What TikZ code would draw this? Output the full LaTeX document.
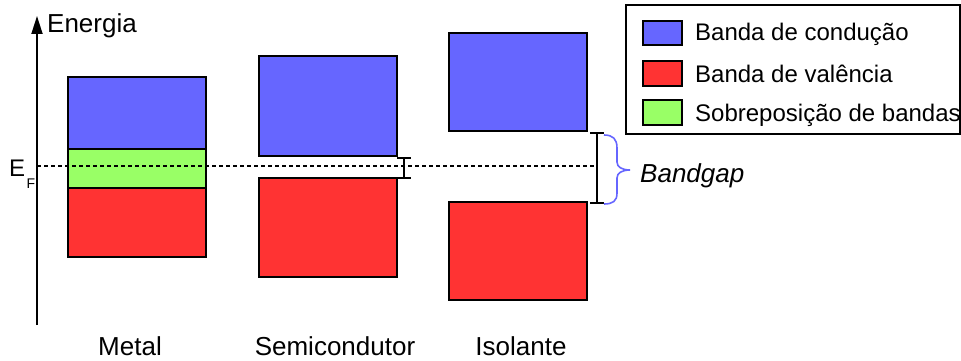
\documentclass[tikz,border=0pt]{standalone}
\usepackage{fontspec}
\setmainfont{Liberation Sans}
\usetikzlibrary{arrows.meta}
\definecolor{condblue}{HTML}{6666FF}
\definecolor{valred}{HTML}{FF3333}
\definecolor{overgreen}{HTML}{99FF66}
\tikzset{
  band/.style={draw=black, line width=1.4pt},
  label/.style={inner sep=0pt, font=\fontsize{26pt}{30pt}\selectfont},
  legtext/.style={inner sep=0pt, anchor=base west, font=\fontsize{24pt}{28pt}\selectfont},
  gapbar/.style={draw=black, line width=1.7pt},
  fermi/.style={draw=black, line width=1.4pt, dash pattern=on 4pt off 3pt},
}
\begin{document}
\begin{tikzpicture}[x=1pt,y=-1pt]
\useasboundingbox (0,0) rectangle (961,361);

% energy axis
\coordinate (axbot) at (37,325);
\coordinate (axtop) at (37,16);
\draw[line width=1.8pt, -{Triangle[length=18pt,width=11pt]}] (axbot) -- (axtop);
\node[label, anchor=base west] (energia) at (47,33) {Energia};

% Fermi level
\node[inner sep=0pt, anchor=base west, font=\fontsize{24pt}{28pt}\selectfont] (ef) at (9,176) {E};
\node[inner sep=0pt, anchor=base west, font=\fontsize{14pt}{16pt}\selectfont] (efsub) at (26.5,188) {F};

% metal
\filldraw[band, fill=condblue] (68,77) rectangle (206,149);
\filldraw[band, fill=overgreen] (68,149) rectangle (206,188);
\filldraw[band, fill=valred] (68,188) rectangle (206,257);

% semiconductor
\filldraw[band, fill=condblue] (259,56) rectangle (397,156);
\filldraw[band, fill=valred] (259,178) rectangle (397,277);

% insulator
\filldraw[band, fill=condblue] (449,33) rectangle (587,131);
\filldraw[band, fill=valred] (449,202) rectangle (587,300);

% Fermi level line
\coordinate (fstart) at (37,166);
\coordinate (fend) at (596,166);
\draw[fermi] (fstart) -- (fend);

% band gaps
\draw[gapbar] (404,158) -- (404,178);
\draw[gapbar] (397,158) -- (411,158);
\draw[gapbar] (397,178) -- (411,178);
\draw[gapbar] (597,133) -- (597,203);
\draw[gapbar] (590,133) -- (604,133);
\draw[gapbar] (590,203) -- (604,203);

% brace
\draw[condblue, line width=1.6pt]
  (604,135) .. controls (613,135) and (617,139) .. (617,148)
  -- (617,162) .. controls (617,167) and (622,170) .. (630,170)
  .. controls (622,170) and (617,173) .. (617,178)
  -- (617,193) .. controls (617,201) and (613,204) .. (604,204);
\node[inner sep=0pt, anchor=base west, font=\fontsize{26pt}{30pt}\selectfont\itshape] (bandgap) at (640,182) {Bandgap};

% material names
\node[label, anchor=base] (metal) at (130,355) {Metal};
\node[label, anchor=base] (semi) at (335,355) {Semicondutor};
\node[label, anchor=base] (iso) at (521,355) {Isolante};

% legend
\draw[line width=1.4pt] (626,5) rectangle (960,134);
\filldraw[band, fill=condblue] (643,21) rectangle (682,45);
\filldraw[band, fill=valred] (643,61) rectangle (682,86);
\filldraw[band, fill=overgreen] (643,100) rectangle (682,125);
\node[legtext] (lc) at (695,41) {Banda de condução};
\node[legtext] (lv) at (695,82) {Banda de valência};
\node[legtext] (lo) at (695,121) {Sobreposição de bandas};
\end{tikzpicture}
\end{document}
